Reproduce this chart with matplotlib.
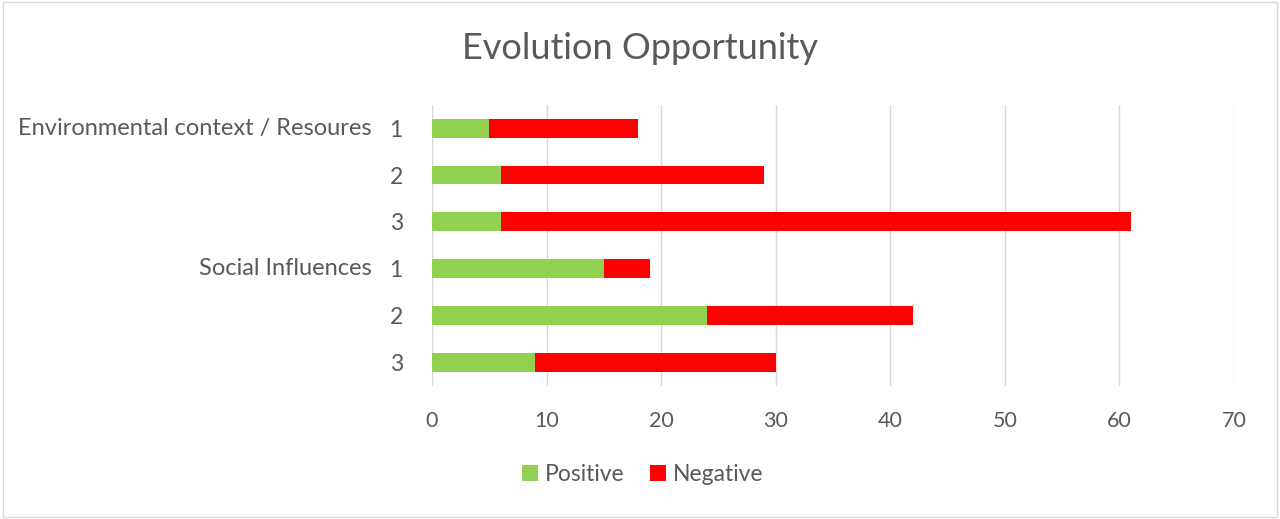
import matplotlib.pyplot as plt
from matplotlib.patches import Rectangle

# данные
groups = ['Environmental context / Resoures', 'Social Influences']
levels = ['1', '2', '3']
positive = [5, 6, 6, 15, 24, 9]
negative = [13, 23, 55, 4, 18, 21]
x_ticks = [0, 10, 20, 30, 40, 50, 60, 70]

txt = '#595959'
plt.rcParams['font.family'] = ['Lato', 'DejaVu Sans']

fig = plt.figure(figsize=(12.8, 5.19), dpi=100)
ax = fig.add_axes([0.3375, 0.257, 0.6265, 0.541])

n = len(positive)
y = list(range(n))
ax.barh(y, positive, height=0.4, color='#92d050', label='Positive', zorder=3)
ax.barh(y, negative, left=positive, height=0.4, color='#ff0000', label='Negative', zorder=3)

ax.set_ylim(n - 0.5, -0.5)
ax.set_xlim(0, 70)
ax.set_xticks(x_ticks)
ax.tick_params(axis='x', length=0, pad=18, labelsize=15.5, labelcolor=txt)
ax.set_yticks(y)
ax.set_yticklabels(levels * len(groups))
ax.tick_params(axis='y', length=0, pad=21, labelsize=16.5, labelcolor=txt)
ax.grid(axis='x', color='#d9d9d9', linewidth=1, zorder=0)
for s in ax.spines.values():
    s.set_visible(False)

# внешний уровень подписей категорий
for i, g in enumerate(groups):
    ax.text(-0.075, i * len(levels), g, transform=ax.get_yaxis_transform(),
            ha='right', va='center', fontsize=17, color=txt)

fig.suptitle('Evolution Opportunity', x=0.5, y=0.907, va='center', fontsize=26, color=txt)
fig.legend(loc='center', bbox_to_anchor=(0.502, 0.085), ncol=2, frameon=False,
           fontsize=16.5, labelcolor=txt, handlelength=0.7, handleheight=0.7,
           handletextpad=0.3, columnspacing=1.1)

fig.patches.append(Rectangle((0.002, 0.004), 0.996, 0.992, transform=fig.transFigure,
                             fill=False, edgecolor='#d9d9d9', linewidth=1))

fig.savefig('out.png', dpi=100)
